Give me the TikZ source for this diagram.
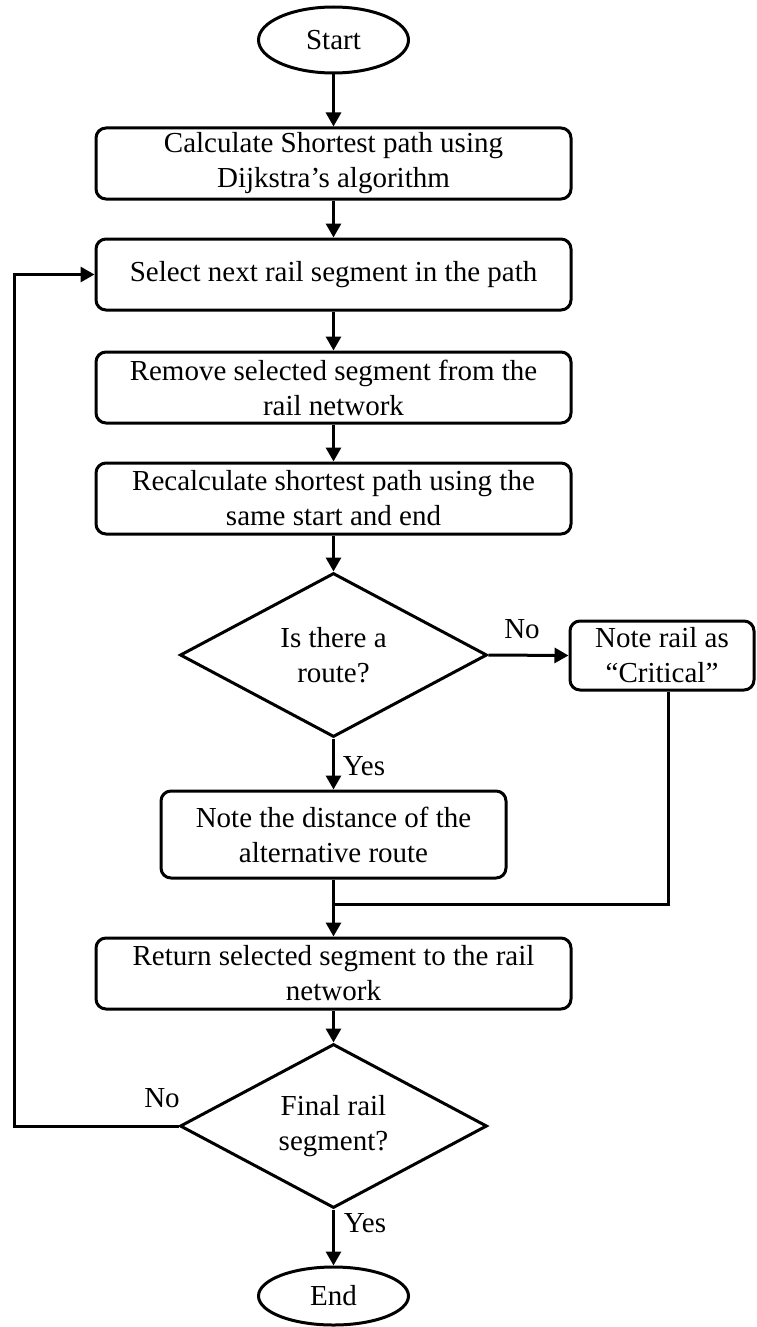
\documentclass[tikz,border=0pt]{standalone}
\usepackage{fontspec}
\setmainfont{Liberation Serif}
\usetikzlibrary{shapes.geometric,arrows.meta}
\begin{document}
\begin{tikzpicture}[x=0.5pt,y=-0.5pt,
  every node/.style={font=\fontsize{14.5}{17.5}\selectfont, align=center, inner sep=0pt},
  proc/.style={draw, line width=1.5pt, rounded corners=5pt, minimum width=237.5pt, minimum height=35.5pt},
  term/.style={draw, ellipse, line width=1.5pt, minimum width=75pt, minimum height=33pt},
  dec/.style={draw, diamond, shape aspect=1.87, line width=1.5pt, minimum width=153.5pt, minimum height=82pt},
  conn/.style={line width=1.5pt, -{Triangle[length=7pt,width=7.5pt]}},
  plain/.style={line width=1.5pt}]
\useasboundingbox (0,0) rectangle (756,1327);
\node[term] (start) at (333.5,40) {Start};
\node[proc] (b1) at (333.5,163.5) {Calculate Shortest path using\\Dijkstra’s algorithm};
\node[proc] (b2) at (333.5,274.5) {Select next rail segment in the path};
\node[proc] (b3) at (333.5,387.5) {Remove selected segment from the\\rail network};
\node[proc] (b4) at (333.5,498.5) {Recalculate shortest path using the\\same start and end};
\node[dec] (d1) at (333.5,655) {Is there a\\route?};
\node[proc, minimum width=92pt, minimum height=34.5pt] (note) at (662,655.5) {Note rail as\\“Critical”};
\node[proc, minimum width=172.5pt, minimum height=43.5pt] (b5) at (333.5,834.5) {Note the distance of the\\alternative route};
\node[proc] (b6) at (333.5,973.5) {Return selected segment to the rail\\network};
\node[dec] (d2) at (333.5,1126) {Final rail\\segment?};
\node[term, minimum height=29pt] (end) at (333.5,1296) {End};

\coordinate (junc) at (333.5,904);
\coordinate (loop) at (14,274.5);

\draw[conn] (start) -- (b1);
\draw[conn] (b1) -- (b2);
\draw[conn] (b2) -- (b3);
\draw[conn] (b3) -- (b4);
\draw[conn] (b4) -- (d1.north);
\draw[conn] (d1.east) -- (note.west);
\draw[conn] (d1.south) -- (b5.north);
\draw[conn] (b5.south) -- (b6.north);
\draw[plain] ([xshift=3pt]note.south) |- (junc);
\draw[conn] (b6) -- (d2.north);
\draw[conn] (d2.south) -- (end.north);
\draw[conn] (d2.west) -| (loop) -- (b2.west);

\node (no1) at (522,629) {No};
\node (yes1) at (364,766) {Yes};
\node (no2) at (162,1098) {No};
\node (yes2) at (365,1223) {Yes};
\end{tikzpicture}
\end{document}
